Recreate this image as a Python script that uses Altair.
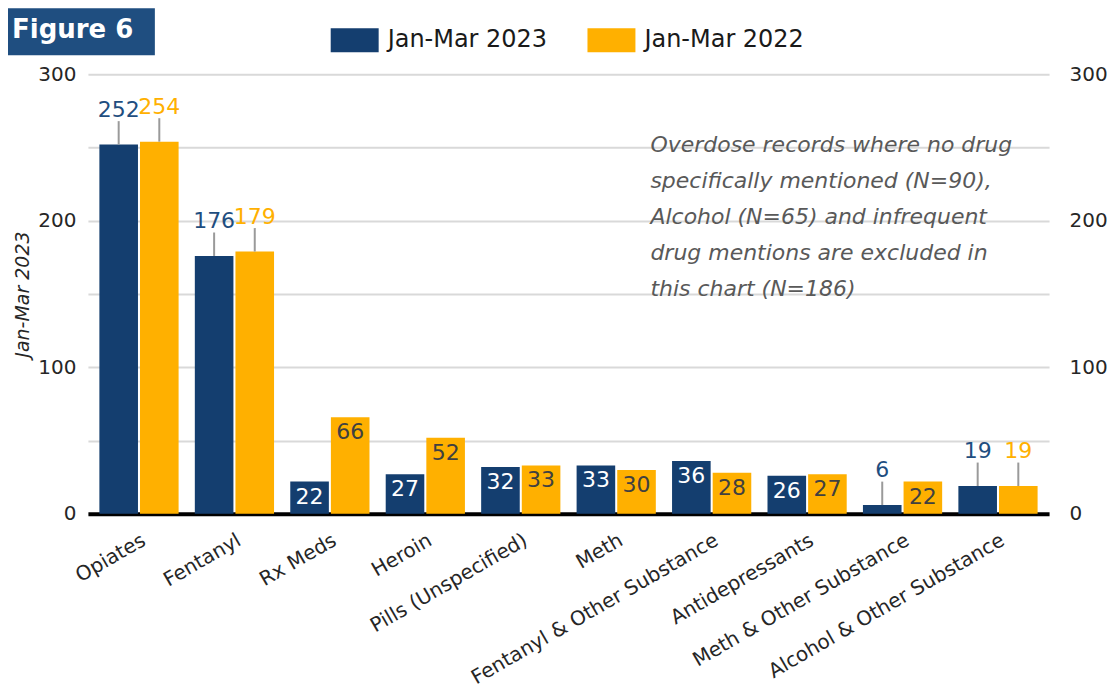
import altair as alt
import pandas as pd

categories = ["Opiates", "Fentanyl", "Rx Meds", "Heroin", "Pills (Unspecified)", "Meth",
              "Fentanyl & Other Substance", "Antidepressants", "Meth & Other Substance",
              "Alcohol & Other Substance"]
series_names = ["Jan-Mar 2023", "Jan-Mar 2022"]
values_2023 = [252, 176, 22, 27, 32, 33, 36, 26, 6, 19]
values_2022 = [254, 179, 66, 52, 33, 30, 28, 27, 22, 19]
y_ticks = [0, 50, 100, 150, 200, 250, 300]
note_lines = ["Overdose records where no drug",
              "specifically mentioned (N=90),",
              "Alcohol (N=65) and infrequent",
              "drug mentions are excluded in",
              "this chart (N=186)"]
figure_label = "Figure 6"
y_title = "Jan-Mar 2023"

rows = []
for cat, a, b in zip(categories, values_2023, values_2022):
    rows.append({"Drug": cat, "Series": series_names[0], "Count": a})
    rows.append({"Drug": cat, "Series": series_names[1], "Count": b})
df = pd.DataFrame(rows)

FONT = "DejaVu Sans"
BLUE = "#143E6F"
ORANGE = "#FFB000"
TXT = "#262626"

x_enc = alt.X("Drug:N", sort=categories, title=None,
              scale=alt.Scale(paddingInner=0.17, paddingOuter=0.12),
              axis=alt.Axis(labelAngle=-30, labelAlign="right", labelBaseline="top",
                            labelFontSize=20, labelColor=TXT, labelFont=FONT, labelPadding=16,
                            ticks=False, domainColor="black", domainWidth=4, grid=False,
                            labelLimit=400))
xoff = alt.XOffset("Series:N", sort=series_names, scale=alt.Scale(paddingInner=0.05))
y_scale = alt.Scale(domain=[0, 300], nice=False)
label_expr = "datum.value % 100 == 0 ? datum.label : ''"

base = alt.Chart(df)

bars = base.mark_bar().encode(
    x=x_enc, xOffset=xoff,
    y=alt.Y("Count:Q", scale=y_scale,
            axis=alt.Axis(values=y_ticks, labelExpr=label_expr, grid=True, gridColor="#D9D9D9",
                          gridWidth=2, ticks=False, domain=False, labelFontSize=20,
                          labelColor=TXT, labelFont=FONT, labelPadding=12, title=y_title,
                          titleFontStyle="italic", titleFontWeight="normal", titleFontSize=19,
                          titleColor=TXT, titleFont=FONT, titlePadding=5)),
    color=alt.Color("Series:N", scale=alt.Scale(domain=series_names, range=[BLUE, ORANGE]),
                    legend=alt.Legend(orient="none", legendX=243, legendY=-58,
                                      direction="horizontal", title=None,
                                      symbolType="M-1,-0.5H1V0.5H-1Z", symbolSize=2304,
                                      symbolStrokeWidth=0, symbolOpacity=1,
                                      labelFontSize=24, labelFont=FONT, labelColor="#1a1a1a",
                                      labelOffset=9, columnPadding=40)),
)

outside = "datum.Count > 150 || datum.Count < 21"

rules = base.transform_filter(outside).transform_calculate(top="datum.Count + 16").mark_rule(
    color="#9A9A9A", strokeWidth=2).encode(
    x=x_enc, xOffset=xoff,
    y=alt.Y("Count:Q", scale=y_scale, axis=None),
    y2="top:Q",
)

out_labels = base.transform_filter(outside).mark_text(
    font=FONT, fontSize=22, baseline="middle", dy=-35).encode(
    x=x_enc, xOffset=xoff,
    y=alt.Y("Count:Q", scale=y_scale,
            axis=alt.Axis(orient="right", values=y_ticks, labelExpr=label_expr, grid=False,
                          ticks=False, domain=False, labelFontSize=20, labelColor=TXT,
                          labelFont=FONT, labelPadding=20, title=None)),
    text="Count:Q",
    color=alt.condition(alt.datum.Series == series_names[0], alt.value("#1F4E80"), alt.value(ORANGE)),
)

in_labels = base.transform_filter("!(" + outside + ")").mark_text(
    font=FONT, fontSize=22, baseline="top", dy=5).encode(
    x=x_enc, xOffset=xoff,
    y=alt.Y("Count:Q", scale=y_scale, axis=None),
    text="Count:Q",
    color=alt.condition(alt.datum.Series == series_names[0], alt.value("white"), alt.value("#404040")),
)

badge_df = pd.DataFrame({"t": [figure_label]})
badge_box = alt.Chart(badge_df).mark_rect(color="#1F4E80").encode(
    x=alt.value(-80), x2=alt.value(67), y=alt.value(-66), y2=alt.value(-19))
badge_text = alt.Chart(badge_df).mark_text(
    font=FONT, fontSize=26, fontWeight="bold", color="white", align="left",
    baseline="alphabetic").encode(
    x=alt.value(-76), y=alt.value(-36), text="t:N")

note = alt.Chart(badge_df).mark_text(
    font=FONT, fontSize=22, fontStyle="italic", color="#595959", align="left",
    baseline="alphabetic", lineHeight=36).encode(
    x=alt.value(563), y=alt.value(78), text=alt.value(note_lines))

chart = alt.layer(bars, rules, out_labels, in_labels, badge_box, badge_text, note).resolve_axis(
    y="independent").properties(
    width=962, height=440,
    autosize=alt.AutoSizeParams(type="none"),
    padding={"left": 80, "top": 66, "right": 60, "bottom": 178},
    background="white",
).configure_view(stroke=None)

chart.save("out.html", embed_options={"renderer": "svg", "actions": False})
